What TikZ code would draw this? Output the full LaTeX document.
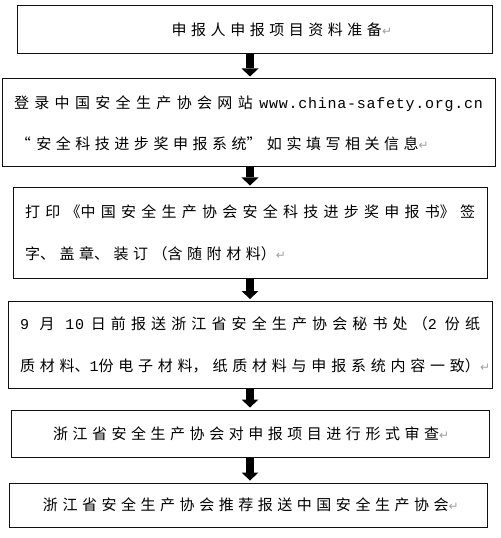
\documentclass[tikz,border=0pt]{standalone}
\usepackage{fontspec}
\usetikzlibrary{arrows.meta}
\newfontfamily\cjk{Noto Sans CJK SC}
\newfontfamily\latn[LetterSpace=5]{Liberation Mono}
\newfontfamily\symb{DejaVu Sans}
\definecolor{markGray}{HTML}{A0A0A0}
\definecolor{lineDark}{HTML}{101010}
\XeTeXlinebreaklocale "zh"\relax
\XeTeXlinebreakskip=3.4pt plus 1pt minus 1.5pt
\newcommand\lt[1]{\XeTeXlinebreaklocale ""\relax{\latn #1}\XeTeXlinebreaklocale "zh"\relax}
\newcommand\pmark{{\symb\fontsize{9pt}{9pt}\selectfont\color{markGray}↵}}
\newcommand\fullline[1]{{\rightskip=0pt\parfillskip=0pt #1\par}}

\begin{document}
\begin{tikzpicture}[x=0.75pt, y=-0.75pt,
    stepbox/.style={rectangle, draw=lineDark, line width=0.75pt,
                    inner xsep=9pt, inner ysep=0pt, align=left,
                    font=\cjk\fontsize{11.25pt}{31pt}\selectfont},
    flow/.style={draw=black, line width=6pt,
                 -{Triangle[width=12.75pt, length=6pt, line width=0pt]},
                 shorten >=1.5pt},
  ]
    \useasboundingbox (0,0) rectangle (500,538);
    \coordinate (ax) at (250,0);

    \node[stepbox, minimum width=356.25pt, minimum height=36pt, text width=338.25pt]
      (prep) at (254.5,29.5)
      {\hspace*{107pt}申报人申报项目资料准备\pmark};
    \node[stepbox, minimum width=369.75pt, minimum height=66pt, text width=351.75pt]
      (login) at (248.5,123)
      {\fullline{登录中国安全生产协会网站\hspace{5pt}\lt{www.china-safety.org.cn}}
       \hspace*{1.5pt}“\hspace{4pt}安全科技进步奖申报系统”\hspace{4pt}如实填写相关信息\pmark};
    \node[stepbox, minimum width=355.5pt, minimum height=67.5pt, text width=337.5pt]
      (print) at (250,233)
      {\fullline{打印《中国安全生产协会安全科技进步奖申报书》签}
       字、盖章、装订（含随附材料）\pmark};
    \node[stepbox, minimum width=363pt, minimum height=65.25pt, text width=345pt]
      (send) at (250,345)
      {\fullline{\lt{9}\hspace{8pt}月\hspace{8pt}\lt{10}\hspace{5pt}日前报送浙江省安全生产协会秘书处（\lt{2}\hspace{6pt}份纸}
       \fullline{质材料、\lt{1}份电子材料，纸质材料与申报系统内容一致）\rlap{\pmark}}};
    \node[stepbox, minimum width=358.5pt, minimum height=35.25pt, text width=340.5pt]
      (review) at (250,433.5)
      {\hspace*{22.5pt}浙江省安全生产协会对申报项目进行形式审查\pmark};
    \node[stepbox, minimum width=358.5pt, minimum height=33pt, text width=340.5pt]
      (recommend) at (248,505)
      {\hspace*{16.5pt}浙江省安全生产协会推荐报送中国安全生产协会\pmark};

    % arrows between the steps
    \foreach \a/\b in {prep/login, login/print, print/send, send/review, review/recommend}
      \draw[flow] (\a.south -| ax) -- (\b.north -| ax);
  \end{tikzpicture}
\end{document}
